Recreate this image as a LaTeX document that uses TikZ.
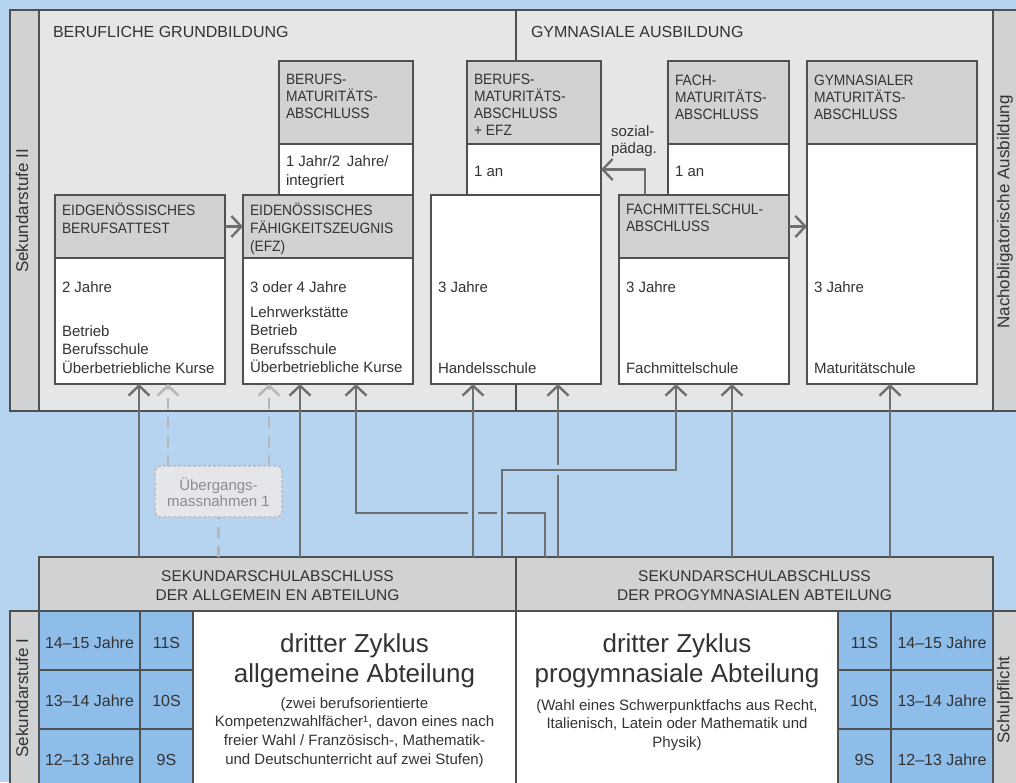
\documentclass[tikz,border=0pt]{standalone}
\usepackage{fontspec}
\setmainfont{Liberation Sans}
\newfontfamily\hdrfam{Liberation Sans}[FakeStretch=0.92]
\usetikzlibrary{arrows.meta,calc}
\definecolor{bgblue}{HTML}{B6D4F0}
\definecolor{panelgray}{HTML}{E5E6E8}
\definecolor{hdrgray}{HTML}{D1D2D4}
\definecolor{cellblue}{HTML}{8EBDEA}
\definecolor{edgegray}{HTML}{4F5052}
\definecolor{conngray}{HTML}{6E6F71}
\definecolor{txtgray}{HTML}{333333}
\definecolor{ghostgray}{HTML}{B4B6B9}
\definecolor{ghosttxt}{HTML}{8A8C8F}
\definecolor{ghostfill}{HTML}{E4E6E9}
\newcommand\mystrut{\rule{0pt}{14pt}}
\newcommand\mybigstrut{\rule{0pt}{20pt}}
\tikzset{
  boxbase/.style={rectangle, draw=edgegray, line width=1.3pt, inner sep=0pt, outer sep=0pt, anchor=north west},
  hdrbox/.style={boxbase, fill=hdrgray},
  bodybox/.style={boxbase, fill=white},
  cellbox/.style={boxbase, fill=cellblue},
  panelbox/.style={boxbase, fill=panelgray},
  txt/.style={inner sep=0pt, outer sep=0pt, text=txtgray, font=\fontsize{15}{18.5}\selectfont},
  tl/.style={txt, anchor=north west, align=left},
  tlh/.style={tl, font=\hdrfam\fontsize{15}{17}\selectfont},
  tb/.style={txt, anchor=base west},
  tc/.style={txt, anchor=north, align=center},
  sidelabel/.style={txt, rotate=90, font=\fontsize{17}{20}\selectfont},
  celltxt/.style={txt, font=\fontsize{16}{20}\selectfont},
  conn/.style={draw=conngray, line width=2.4pt, -{Straight Barb[length=10pt,width=21pt]}},
  ghostconn/.style={draw=ghostgray, line width=2.4pt, dash pattern=on 11pt off 8pt, -{Straight Barb[length=10pt,width=21pt]}},
  ghostline/.style={draw=ghostgray, line width=2.4pt, dash pattern=on 11pt off 8pt},
  gapmark/.style={draw=bgblue, line width=3.4pt},
}
\begin{document}
\begin{tikzpicture}[x=1pt,y=-1pt]
\useasboundingbox (0,0) rectangle (1016,782);
\clip (0,0) rectangle (1016,782);
\fill[bgblue] (0,0) rectangle (1016,782);

% ---------- x positions of connectors ----------
\coordinate (xa) at (139,0);
\coordinate (xg1) at (168,0);
\coordinate (xg0) at (218.5,0);
\coordinate (xg2) at (269,0);
\coordinate (xb) at (300,0);
\coordinate (xb2) at (356,0);
\coordinate (xe1) at (473,0);
\coordinate (xf1) at (502,0);
\coordinate (xr1) at (545,0);
\coordinate (xe2) at (558,0);
\coordinate (xsoz) at (645,0);
\coordinate (xg) at (676,0);
\coordinate (xg3) at (732,0);
\coordinate (xh) at (890,0);
\coordinate (ylow) at (0,513);
\coordinate (yhigh) at (0,470);
\coordinate (xmid) at (516,0);

% ---------- upper panel ----------
\node[panelbox, minimum width=1030, minimum height=401] (top) at (10,10) {};
\node[hdrbox, minimum width=29, minimum height=401] (sideL) at (10,10) {};
\node[hdrbox, minimum width=40, minimum height=401] (sideR) at (993,10) {};
\draw[draw=edgegray, line width=1.3pt] (xmid |- top.north) -- (xmid |- top.south);

\node[sidelabel] (lblS2) at (22,211) {Sekundarstufe II};
\node[sidelabel] (lblNach) at (1005,212) {Nachobligatorische Ausbildung};

\node[tb, font=\fontsize{16}{18}\selectfont] (ttlB) at (53,37.5) {BERUFLICHE GRUNDBILDUNG};
\node[tb, font=\fontsize{16}{18}\selectfont] (ttlG) at (531,37.5) {GYMNASIALE AUSBILDUNG};

% boxes
\node[hdrbox, minimum width=170, minimum height=63] (Ahdr) at (55,195) {};
\node[bodybox, minimum width=170, minimum height=126] (Abody) at (55,258) {};
\node[hdrbox, minimum width=170, minimum height=63] (Bhdr) at (243,195) {};
\node[bodybox, minimum width=170, minimum height=126] (Bbody) at (243,258) {};
\node[hdrbox, minimum width=134, minimum height=83] (Chdr) at (279,61) {};
\node[bodybox, minimum width=134, minimum height=51] (Cbody) at (279,144) {};
\node[hdrbox, minimum width=134, minimum height=83] (Dhdr) at (467,61) {};
\node[bodybox, minimum width=134, minimum height=51] (Dbody) at (467,144) {};
\node[bodybox, minimum width=170, minimum height=189] (Ebody) at (431,195) {};
\node[hdrbox, minimum width=121, minimum height=83] (Fhdr) at (668,61) {};
\node[bodybox, minimum width=121, minimum height=51] (Fbody) at (668,144) {};
\node[hdrbox, minimum width=170, minimum height=63] (Ghdr) at (619,195) {};
\node[bodybox, minimum width=170, minimum height=126] (Gbody) at (619,258) {};
\node[hdrbox, minimum width=170, minimum height=83] (Hhdr) at (807,61) {};
\node[bodybox, minimum width=170, minimum height=240] (Hbody) at (807,144) {};

% box texts
\node[tlh, font=\hdrfam\fontsize{15}{18}\selectfont] (tA) at (62,201) {\mystrut EIDGENÖSSISCHES\\BERUFSATTEST};
\node[tb] (tA1) at (62,292) {2 Jahre};
\node[tl] (tA2) at (62,322) {\mystrut Betrieb\\Berufsschule\\Überbetriebliche Kurse};

\node[tlh, font=\hdrfam\fontsize{15}{18}\selectfont] (tB) at (250,201) {\mystrut EIDENÖSSISCHES\\FÄHIGKEITSZEUGNIS\\(EFZ)};
\node[tb] (tB1) at (250,292) {3 oder 4 Jahre};
\node[tl] (tB2) at (250,303) {\mystrut Lehrwerkstätte\\Betrieb\\Berufsschule\\Überbetriebliche Kurse};

\node[tlh] (tC) at (286,70.5) {\mystrut BERUFS-\\MATURITÄTS-\\ABSCHLUSS};
\node[tl] (tC1) at (286,152.7) {\mystrut 1 Jahr/2 \,Jahre/\\integriert};

\node[tlh] (tD) at (474,70.5) {\mystrut BERUFS-\\MATURITÄTS-\\ABSCHLUSS\\+ EFZ};
\node[tb] (tD1) at (474,176.5) {1 an};

\node[tb] (tE1) at (438,292) {3 Jahre};
\node[tb] (tE2) at (438,373) {Handelsschule};

\node[tlh] (tF) at (675,71) {\mystrut FACH-\\MATURITÄTS-\\ABSCHLUSS};
\node[tb] (tF1) at (675,176.5) {1 an};

\node[tlh] (tG) at (626,200.5) {\mystrut FACHMITTELSCHUL-\\ABSCHLUSS};
\node[tb] (tG1) at (626,292) {3 Jahre};
\node[tb] (tG2) at (626,373) {Fachmittelschule};

\node[tlh] (tH) at (814,71) {\mystrut GYMNASIALER\\MATURITÄTS-\\ABSCHLUSS};
\node[tb] (tH1) at (814,292) {3 Jahre};
\node[tb] (tH2) at (814,373) {Maturitätschule};

\node[tl, font=\fontsize{15}{16.7}\selectfont] (tSoz) at (611,122.7) {\mystrut sozial-\\pädag.};

% ---------- bottom bars ----------
\node[hdrbox, minimum width=477, minimum height=54] (barL) at (39,557) {};
\node[hdrbox, minimum width=477, minimum height=54] (barR) at (516,557) {};
\node[tc, font=\fontsize{15.5}{19}\selectfont] (tbarL) at (277.5,567) {\mystrut SEKUNDARSCHULABSCHLUSS\\DER ALLGEMEIN EN ABTEILUNG};
\node[tc, font=\fontsize{15.5}{19}\selectfont] (tbarR) at (754.5,567) {\mystrut SEKUNDARSCHULABSCHLUSS\\DER PROGYMNASIALEN ABTEILUNG};

% ---------- lower section ----------
\node[hdrbox, minimum width=29, minimum height=180] (sideLb) at (10,611) {};
\node[hdrbox, minimum width=40, minimum height=180] (sideRb) at (993,611) {};
\node[sidelabel] (lblS1) at (22,698) {Sekundarstufe I};
\node[sidelabel] (lblPf) at (1005,700) {Schulpflicht};

\node[cellbox, minimum width=101, minimum height=59] (ageL1) at (39,611) {};
\node[cellbox, minimum width=101, minimum height=59] (ageL2) at (39,670) {};
\node[cellbox, minimum width=101, minimum height=62] (ageL3) at (39,729) {};
\node[cellbox, minimum width=53, minimum height=59] (grL1) at (140,611) {};
\node[cellbox, minimum width=53, minimum height=59] (grL2) at (140,670) {};
\node[cellbox, minimum width=53, minimum height=62] (grL3) at (140,729) {};
\node[bodybox, minimum width=323, minimum height=180] (zykL) at (193,611) {};
\node[bodybox, minimum width=322, minimum height=180] (zykR) at (516,611) {};
\node[cellbox, minimum width=53, minimum height=59] (grR1) at (838,611) {};
\node[cellbox, minimum width=53, minimum height=59] (grR2) at (838,670) {};
\node[cellbox, minimum width=53, minimum height=62] (grR3) at (838,729) {};
\node[cellbox, minimum width=102, minimum height=59] (ageR1) at (891,611) {};
\node[cellbox, minimum width=102, minimum height=59] (ageR2) at (891,670) {};
\node[cellbox, minimum width=102, minimum height=62] (ageR3) at (891,729) {};

\node[celltxt, anchor=base] (tAL1) at (89.5,648) {14–15 Jahre};
\node[celltxt, anchor=base] (tAL2) at (89.5,706.5) {13–14 Jahre};
\node[celltxt, anchor=base] (tAL3) at (89.5,765) {12–13 Jahre};
\node[celltxt, anchor=base] (tGL1) at (166.5,648) {11S};
\node[celltxt, anchor=base] (tGL2) at (166.5,706.5) {10S};
\node[celltxt, anchor=base] (tGL3) at (166.5,765) {9S};
\node[celltxt, anchor=base] (tGR1) at (864.5,648) {11S};
\node[celltxt, anchor=base] (tGR2) at (864.5,706.5) {10S};
\node[celltxt, anchor=base] (tGR3) at (864.5,765) {9S};
\node[celltxt, anchor=base] (tAR1) at (942,648) {14–15 Jahre};
\node[celltxt, anchor=base] (tAR2) at (942,706.5) {13–14 Jahre};
\node[celltxt, anchor=base] (tAR3) at (942,765) {12–13 Jahre};

\node[tc, font=\fontsize{26}{30}\selectfont] (zL1) at (354.5,632.7) {\mybigstrut dritter Zyklus\\allgemeine Abteilung};
\node[tc, font=\fontsize{15}{18.7}\selectfont] (zL2) at (354.5,694) {\mystrut(zwei berufsorientierte\\Kompetenzwahlfächer¹, davon eines nach\\freier Wahl / Französisch-, Mathematik-\\und Deutschunterricht auf zwei Stufen)};
\node[tc, font=\fontsize{26}{30}\selectfont] (zR1) at (677,632.7) {\mybigstrut dritter Zyklus\\progymnasiale Abteilung};
\node[tc, font=\fontsize{15}{18.7}\selectfont] (zR2) at (677,696) {\mystrut(Wahl eines Schwerpunktfachs aus Recht,\\Italienisch, Latein oder Mathematik und\\Physik)};

% ---------- Übergangsmassnahmen ----------
\node[rectangle, rounded corners=6pt, draw=ghostgray, line width=1.2pt, dash pattern=on 3pt off 2pt, fill=ghostfill, inner sep=0pt, outer sep=0pt, anchor=north west, minimum width=127, minimum height=51] (Ueb) at (155,466) {};
\node[tc, text=ghosttxt, font=\fontsize{15}{16.7}\selectfont] (tUeb) at (218.5,476) {\mystrut Übergangs-\\massnahmen 1};

% ---------- connectors ----------
\draw[conn] (Ahdr.east) -- (Bhdr.west);
\draw[conn] (Ghdr.east) -- (Hbody.west |- Ghdr.east);
\draw[conn] (Ghdr.north -| xsoz) |- (Dbody.east);

\draw[conn] (barL.north -| xa) -- (Abody.south -| xa);
\draw[ghostline] (barL.north -| xg0) -- (Ueb.south -| xg0);
\draw[ghostconn] (Ueb.north -| xg1) -- (Abody.south -| xg1);
\draw[ghostconn] (Ueb.north -| xg2) -- (Bbody.south -| xg2);
\draw[conn] (barL.north -| xb) -- (Bbody.south -| xb);

% progymnasial -> EFZ (broken where it crosses)
\draw[conn] (barR.north -| xr1) -- (xr1 |- ylow) -- (xb2 |- ylow) -- (Bbody.south -| xb2);
% progymnasial -> Handelsschule
\draw[conn] (barR.north -| xe2) -- (Ebody.south -| xe2);
% gaps
\draw[gapmark] ($(xe1 |- ylow)+(-4.6,0)$) -- ($(xe1 |- ylow)+(4.6,0)$);
\draw[gapmark] ($(xf1 |- ylow)+(-4.6,0)$) -- ($(xf1 |- ylow)+(4.6,0)$);
\draw[gapmark] ($(xe2 |- yhigh)+(0,-4.6)$) -- ($(xe2 |- yhigh)+(0,4.6)$);
% allgemein -> Handelsschule, allgemein -> Fachmittelschule
\draw[conn] (barL.north -| xe1) -- (Ebody.south -| xe1);
\draw[conn] (barL.north -| xf1) -- (xf1 |- yhigh) -- (xg |- yhigh) -- (Gbody.south -| xg);
\draw[conn] (barR.north -| xg3) -- (Gbody.south -| xg3);
\draw[conn] (barR.north -| xh) -- (Hbody.south -| xh);
\end{tikzpicture}
\end{document}
